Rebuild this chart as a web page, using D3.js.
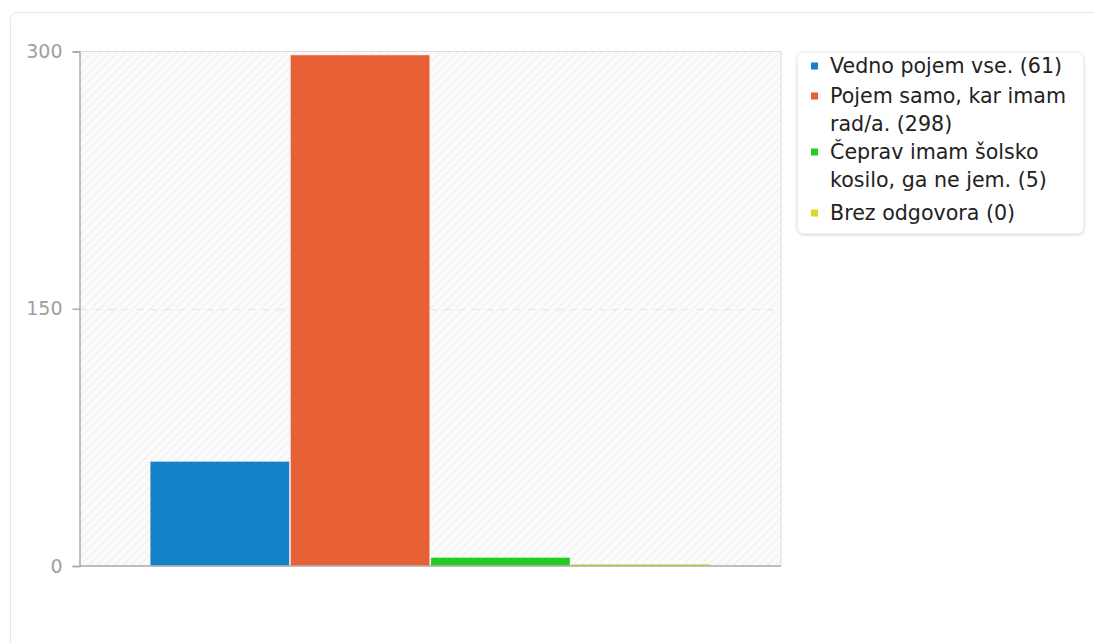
<!DOCTYPE html>
<html><head><meta charset="utf-8">
<script src="https://cdn.jsdelivr.net/npm/d3@7"></script>
<style>
html,body{margin:0;padding:0;background:#fff;overflow:hidden;}
svg{display:block;font-family:"DejaVu Sans",sans-serif;}
</style></head>
<body>
<script>
const categories = ["Vedno pojem vse.", "Pojem samo, kar imam rad/a.", "Čeprav imam šolsko kosilo, ga ne jem.", "Brez odgovora"];
const values = [61, 298, 5, 0];
const colors = ["#1582c8", "#e86036", "#22cc22", "#d9d926"];
const legendLines = [["Vedno pojem vse. (61)"], ["Pojem samo, kar imam", "rad/a. (298)"], ["Čeprav imam šolsko", "kosilo, ga ne jem. (5)"], ["Brez odgovora (0)"]];
const yTicks = [0, 150, 300];

const W = 1094, H = 643;
const svg = d3.select("body").append("svg").attr("width", W).attr("height", H);
const defs = svg.append("defs");
const pat = defs.append("pattern").attr("id","hatch").attr("patternUnits","userSpaceOnUse")
  .attr("width",6).attr("height",6).attr("patternTransform","rotate(45)");
pat.append("rect").attr("width",6).attr("height",6).attr("fill","#fbfbfb");
pat.append("line").attr("x1",0).attr("y1",0).attr("x2",0).attr("y2",6).attr("stroke","#efefef").attr("stroke-width",2);
const flt = defs.append("filter").attr("id","shadow").attr("x","-10%").attr("y","-10%").attr("width","120%").attr("height","130%");
flt.append("feDropShadow").attr("dx",0).attr("dy",1).attr("stdDeviation",1.5).attr("flood-color","#000").attr("flood-opacity",0.18);

// card
svg.append("rect").attr("x",10.5).attr("y",12.5).attr("width",1200).attr("height",700).attr("rx",7)
  .attr("fill","#fff").attr("stroke","#e6e6e6");

const m = {l:79.5, t:51.5, r:781, b:566};
const x = d3.scaleBand().domain(categories).range([m.l, m.r]).paddingOuter(0.5).paddingInner(0);
const y = d3.scaleLinear().domain([0,300]).range([m.b, m.t]);

svg.append("rect").attr("x",m.l).attr("y",m.t).attr("width",m.r-m.l).attr("height",m.b-m.t).attr("fill","url(#hatch)");
svg.append("path").attr("d",`M${m.l},${m.t}H${m.r}V${m.b}`).attr("fill","none").attr("stroke","#dddddd");

svg.append("g").selectAll("line").data(yTicks.filter(d=>d>0 && d<300)).join("line")
  .attr("x1",m.l).attr("x2",m.r).attr("y1",d=>Math.round(y(d))+0.5).attr("y2",d=>Math.round(y(d))+0.5)
  .attr("stroke","#e6e6e6").attr("stroke-dasharray","8,6");

svg.append("g").selectAll("rect").data(values).join("rect")
  .attr("x",(d,i)=>x(categories[i])+0.5)
  .attr("width",x.bandwidth()-1)
  .attr("y",d=>Math.min(y(d), m.b-2))
  .attr("height",d=>Math.max(m.b - y(d), 2))
  .attr("fill",(d,i)=>colors[i])
  .attr("stroke","rgba(255,255,255,0.45)").attr("stroke-width",1);

const yAxis = d3.axisLeft(y).tickValues(yTicks).tickSize(7).tickPadding(10);
const ga = svg.append("g").attr("transform",`translate(${m.l},0)`).call(yAxis);
ga.select(".domain").attr("stroke","#aaaaaa").attr("stroke-width",1.5);
ga.selectAll(".tick line").attr("stroke","#aaaaaa").attr("stroke-width",1.5);
ga.selectAll(".tick text").attr("fill","#a0a0a0").attr("font-size",19).attr("font-family","DejaVu Sans");
svg.append("line").attr("x1",m.l).attr("x2",m.r).attr("y1",m.b).attr("y2",m.b).attr("stroke","#aaaaaa").attr("stroke-width",1.5);

const lg = svg.append("g");
lg.append("rect").attr("x",797.5).attr("y",52.5).attr("width",286).attr("height",181).attr("rx",6)
  .attr("fill","#fff").attr("stroke","#f0f0f0").attr("filter","url(#shadow)");
const itemY = [66, 96, 152, 213];
const lh = 27.5;
legendLines.forEach((lines,i)=>{
  lg.append("rect").attr("x",811).attr("y",itemY[i]-3.5).attr("width",7).attr("height",7).attr("fill",colors[i]);
  lines.forEach((t,j)=>{
    lg.append("text").attr("x",830).attr("y",itemY[i]+j*lh).attr("dy","0.35em")
      .attr("font-size",20.6).attr("fill","#222").text(t);
  });
});
</script>
</body></html>
